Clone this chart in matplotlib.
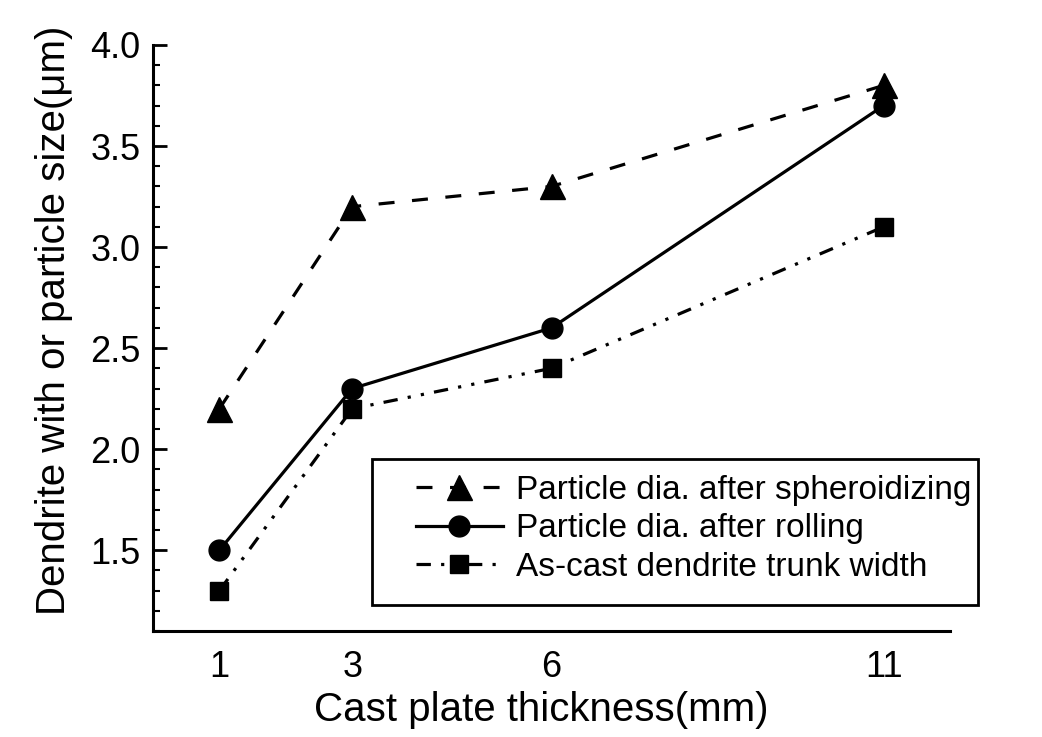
import matplotlib
matplotlib.use("Agg")
import matplotlib.pyplot as plt
from matplotlib.ticker import MultipleLocator
from matplotlib.patches import Rectangle

plt.rcParams['font.family'] = ['Liberation Sans', 'DejaVu Sans']

thickness = [1, 3, 6, 11]
xtick_labels = ['1', '3', '6', '11']
spheroidized = [2.2, 3.2, 3.3, 3.8]
rolled = [1.5, 2.3, 2.6, 3.7]
as_cast = [1.3, 2.2, 2.4, 3.1]
series_labels = ['Particle dia. after spheroidizing',
                 'Particle dia. after rolling',
                 'As-cast dendrite trunk width']

W, H = 1042, 737
fig = plt.figure(figsize=(W / 100, H / 100), dpi=100)
ax = fig.add_axes([153 / W, 1 - 631 / H, (950 - 153) / W, (631 - 45) / H])

lw = 2.3
ax.plot(thickness, spheroidized, color='black', lw=lw, linestyle=(0, (5, 5.5)),
        marker='^', ms=18, label=series_labels[0])
ax.plot(thickness, rolled, color='black', lw=lw, linestyle='-',
        marker='o', ms=15, label=series_labels[1])
ax.plot(thickness, as_cast, color='black', lw=lw, linestyle=(0, (4.5, 3.2, 1, 3.2, 1, 3.2)),
        marker='s', ms=13, label=series_labels[2])

ax.set_xlim(0, 12)
ax.set_ylim(1.1, 4.0)
ax.set_xticks(thickness)
ax.set_xticklabels(xtick_labels)
ax.yaxis.set_major_locator(MultipleLocator(0.5))
ax.yaxis.set_minor_locator(MultipleLocator(0.1))
ax.tick_params(axis='y', which='major', direction='in', length=10, width=2, labelsize=26, pad=9)
ax.tick_params(axis='y', which='minor', direction='in', length=5, width=1.5)
ax.tick_params(axis='x', which='major', direction='in', length=0, labelsize=26, pad=14)

for s in ['top', 'right']:
    ax.spines[s].set_visible(False)
for s in ['left', 'bottom']:
    ax.spines[s].set_linewidth(2.2)

ax.set_xlabel('Cast plate thickness(mm)', fontsize=29, labelpad=4, x=0.487)
ax.set_ylabel('Dendrite with or particle size(\u03bcm)', fontsize=29, labelpad=12, y=0.53)

# legend frame
frame = Rectangle((372 / W, 1 - 605 / H), (978 - 372) / W, (605 - 459) / H,
                  transform=fig.transFigure, fill=True, facecolor='white',
                  edgecolor='black', linewidth=2.0, zorder=4, clip_on=False)
ax.add_patch(frame)
leg = ax.legend(loc='upper left', bbox_to_anchor=(416 / W, 1 - 475 / H),
                bbox_transform=fig.transFigure, fontsize=24, frameon=False,
                handlelength=2.6, handletextpad=0.4, borderpad=0.0,
                labelspacing=0.22, borderaxespad=0)
leg.set_zorder(5)

fig.savefig('out.png', dpi=100)
